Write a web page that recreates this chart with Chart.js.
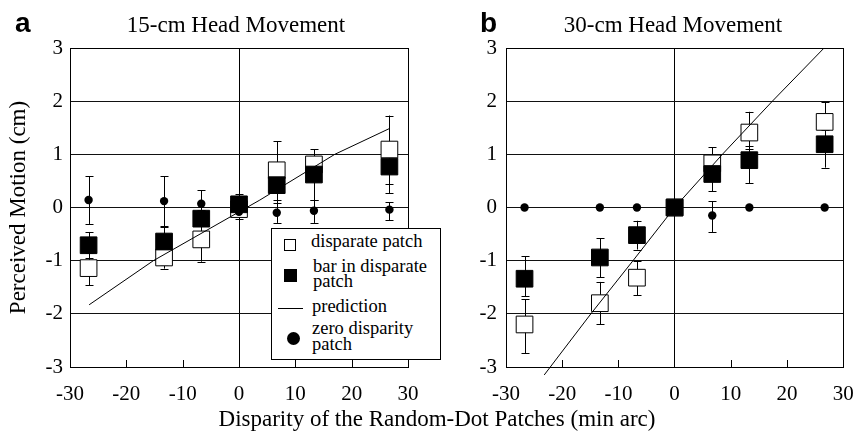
<!DOCTYPE html>
<html lang="en">
<head>
<meta charset="UTF-8">
<title>Perceived Motion</title>
<script src="https://cdn.jsdelivr.net/npm/chart.js@4.4.0/dist/chart.umd.min.js"></script>
<style>
  body { margin: 0; background: #fff; }
  #wrap { position: relative; width: 856px; height: 431px; overflow: hidden;
          font-family: "Liberation Serif", "Times New Roman", serif; color: #000; }
  canvas { position: absolute; top: 0; }
  #chartA { left: 0; }
  #chartB { left: 428px; }
  .title { position: absolute; width: 320px; text-align: center; font-size: 23px; line-height: 23px; white-space: nowrap; }
  .letter { position: absolute; font-family: "Liberation Sans", Arial, sans-serif; font-weight: bold;
            font-size: 28px; line-height: 28px; }
  #legend { position: absolute; left: 271px; top: 228px; width: 170px; height: 132px;
            border: 1px solid #000; background: #fff; box-sizing: border-box; }
  #legend .txt { position: absolute; font-size: 18.5px; line-height: 19px; white-space: nowrap; }
  #legend .mk { position: absolute; box-sizing: border-box; }
</style>
</head>
<body>
<div id="wrap">
  <canvas id="chartA" width="428" height="431"></canvas>
  <canvas id="chartB" width="428" height="431"></canvas>

  <div class="letter" style="left:15px; top:9px;">a</div>
  <div class="letter" style="left:480px; top:9px;">b</div>
  <div class="title" style="left:76px; top:13px;">15-cm Head Movement</div>
  <div class="title" style="left:513px; top:13px;">30-cm Head Movement</div>
  <div class="title" style="left:137px; top:407px; width:600px;">Disparity of the Random-Dot Patches (min arc)</div>

  <!-- 凡例 -->
  <div id="legend">
    <div class="mk" style="left:12px; top:10px; width:12px; height:12px; border:1px solid #000; background:#fff;"></div>
    <div class="txt" style="left:39px; top:3px;">disparate patch</div>
    <div class="mk" style="left:12px; top:40px; width:13px; height:13px; background:#000;"></div>
    <div class="txt" style="left:41px; top:28px;">bar in disparate</div>
    <div class="txt" style="left:41px; top:43px;">patch</div>
    <div class="mk" style="left:6px; top:79px; width:25px; height:1px; background:#000;"></div>
    <div class="txt" style="left:40px; top:68px;">prediction</div>
    <div class="mk" style="left:15px; top:103px; width:13px; height:13px; border-radius:50%; background:#000;"></div>
    <div class="txt" style="left:40px; top:90px;">zero disparity</div>
    <div class="txt" style="left:40px; top:106px;">patch</div>
  </div>
</div>

<script>
// 視差 (min arc)
const disparities = [-26.7, -13.3, -6.7, 0, 6.7, 13.3, 26.7];
const xTicks = [-30, -20, -10, 0, 10, 20, 30];
const yTicks = [-3, -2, -1, 0, 1, 2, 3];

// a: 15-cm
const openA = [-1.14, -0.94, -0.6, -0.03, 0.7, 0.81, 1.09];
const openALow = [-1.46, -1.15, -1.02, -0.21, 0.45, 0.6, 0.45];
const openAHigh = [-0.85, -0.75, -0.45, 0.15, 1.25, 1.1, 1.73];
const barA = [-0.71, -0.64, -0.21, 0.06, 0.42, 0.62, 0.77];
const barALow = [-0.95, -1.08, -0.45, -0.15, 0.08, 0.14, 0.27];
const barAHigh = [-0.46, -0.36, -0.05, 0.25, 0.6, 0.8, 0.95];
const zeroA = [0.14, 0.12, 0.07, -0.08, -0.1, -0.06, -0.04];
const zeroALow = [-0.31, -0.35, -0.2, -0.15, -0.29, -0.29, -0.24];
const zeroAHigh = [0.59, 0.59, 0.32, 0.05, 0.14, 0.15, 0.1];
const predAX = [-26.6, -15.2, 3.7, 17.0, 26.8];
const predAY = [-1.83, -1.0, 0.14, 1.0, 1.49];

// b: 30-cm
const openB = [-2.2, -1.8, -1.32, 0, 0.83, 1.41, 1.61];
const openBLow = [-2.74, -2.2, -1.65, 0, 0.5, 1.1, 1.35];
const openBHigh = [-1.73, -1.4, -1.0, 0, 1.13, 1.8, 1.98];
const barB = [-1.34, -0.94, -0.52, 0, 0.63, 0.89, 1.19];
const barBLow = [-1.67, -1.31, -0.79, 0, 0.31, 0.46, 0.75];
const barBHigh = [-0.92, -0.58, -0.25, 0, 0.85, 1.15, 1.45];
const zeroB = [0, 0, 0, 0, -0.15, 0, 0];
const zeroBLow = [0, 0, 0, 0, -0.46, 0, 0];
const zeroBHigh = [0, 0, 0, 0, 0.12, 0, 0];
const predBX = [-23.2, -14.9, -7.4, 0, 8.5, 17.4, 26.6];
const predBY = [-3.15, -2, -1, 0, 1, 2, 3];

Chart.defaults.font.family = '"Liberation Serif", "Times New Roman", serif';
Chart.defaults.color = "#000";

function toPoints(xs, ys) {
  return xs.map(function (x, i) {
    return { x: x, y: ys[i] };
  });
}

// 枠・内向き目盛り・エラーバーを描くプラグイン
const frameAndErrors = {
  id: "frameAndErrors",
  beforeDatasetsDraw(chart, args, opts) {
    const ctx = chart.ctx;
    const a = chart.chartArea;
    const xs = chart.scales.x;
    const ys = chart.scales.y;
    ctx.save();
    ctx.strokeStyle = "#000";
    ctx.lineWidth = 1;
    ctx.strokeRect(Math.round(a.left) + 0.5, Math.round(a.top) + 0.5,
      Math.round(a.right - a.left), Math.round(a.bottom - a.top));
    xTicks.forEach(function (v) {
      if (v === 0 || v === -30 || v === 30) return;
      const px = Math.round(xs.getPixelForValue(v)) + 0.5;
      ctx.beginPath();
      ctx.moveTo(px, a.bottom);
      ctx.lineTo(px, a.bottom - 7);
      ctx.stroke();
    });
    opts.bars.forEach(function (b) {
      disparities.forEach(function (d, i) {
        if (b.low[i] === b.high[i]) return;
        const px = Math.round(xs.getPixelForValue(d)) + 0.5;
        const lo = ys.getPixelForValue(b.low[i]);
        const hi = ys.getPixelForValue(b.high[i]);
        ctx.beginPath();
        ctx.moveTo(px, lo);
        ctx.lineTo(px, hi);
        ctx.moveTo(px - 4, Math.round(lo) + 0.5);
        ctx.lineTo(px + 4, Math.round(lo) + 0.5);
        ctx.moveTo(px - 4, Math.round(hi) + 0.5);
        ctx.lineTo(px + 4, Math.round(hi) + 0.5);
        ctx.stroke();
      });
    });
    ctx.restore();
  },
};

function makeChart(id, p) {
  const canvas = document.getElementById(id);
  return new Chart(canvas, {
    type: "scatter",
    data: {
      datasets: [
        {
          label: "prediction",
          data: toPoints(p.predX, p.predY),
          showLine: true,
          pointRadius: 0,
          borderColor: "#000",
          borderWidth: 1,
          clip: false,
          order: 0,
        },
        {
          label: "zero disparity patch",
          data: toPoints(disparities, p.zero),
          pointStyle: "circle",
          pointRadius: 4.2,
          backgroundColor: "#000",
          borderColor: "#000",
          borderWidth: 0,
          order: 1,
        },
        {
          label: "bar in disparate patch",
          data: toPoints(disparities, p.bar),
          pointStyle: "rect",
          pointRadius: 11.8,
          backgroundColor: "#000",
          borderColor: "#000",
          borderWidth: 1,
          order: 2,
        },
        {
          label: "disparate patch",
          data: toPoints(disparities, p.open),
          pointStyle: "rect",
          pointRadius: 11.8,
          backgroundColor: "#fff",
          borderColor: "#000",
          borderWidth: 1,
          order: 3,
        },
      ],
    },
    options: {
      responsive: false,
      animation: false,
      events: [],
      layout: { padding: { top: 48, right: p.padRight, left: 0, bottom: 0 } },
      plugins: {
        legend: { display: false },
        tooltip: { enabled: false },
        frameAndErrors: { bars: p.bars },
      },
      scales: {
        x: {
          type: "linear",
          min: -30,
          max: 30,
          afterBuildTicks: function (s) {
            s.ticks = xTicks.map(function (v) { return { value: v }; });
          },
          afterFit: function (s) {
            // 高さ固定・ラベルのはみ出し分は無視
            s.height = 64;
            s.paddingLeft = 0;
            s.paddingRight = 0;
          },
          ticks: { font: { size: 21 }, padding: 15 },
          grid: {
            drawTicks: false,
            color: function (c) {
              return c.tick && c.tick.value === 0 ? "#000" : "rgba(0,0,0,0)";
            },
          },
          border: { display: false },
        },
        y: {
          type: "linear",
          min: -3,
          max: 3,
          afterBuildTicks: function (s) {
            s.ticks = yTicks.map(function (v) { return { value: v }; });
          },
          afterFit: function (s) { s.width = p.yWidth; },
          ticks: { font: { size: 21 }, padding: p.yPad },
          grid: { drawTicks: false, color: "#111" },
          border: { display: false },
          title: {
            display: p.yTitle !== "",
            text: p.yTitle,
            font: { size: 23 },
            padding: { top: 5, bottom: 0 },
          },
        },
      },
    },
    plugins: [frameAndErrors],
  });
}

makeChart("chartA", {
  open: openA, bar: barA, zero: zeroA, predX: predAX, predY: predAY,
  bars: [
    { low: openALow, high: openAHigh },
    { low: barALow, high: barAHigh },
    { low: zeroALow, high: zeroAHigh },
  ],
  padRight: 20, yWidth: 70, yPad: 7, yTitle: "Perceived Motion (cm)",
});

makeChart("chartB", {
  open: openB, bar: barB, zero: zeroB, predX: predBX, predY: predBY,
  bars: [
    { low: openBLow, high: openBHigh },
    { low: barBLow, high: barBHigh },
    { low: zeroBLow, high: zeroBHigh },
  ],
  padRight: 12.7, yWidth: 78, yPad: 9, yTitle: "",
});
</script>
</body>
</html>
